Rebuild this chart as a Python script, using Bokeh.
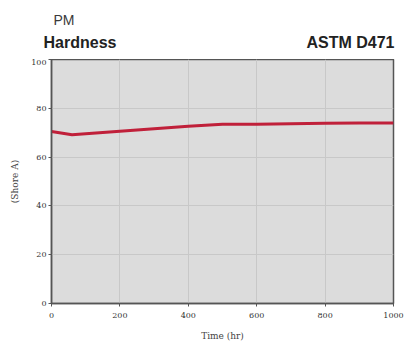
from bokeh.plotting import figure
from bokeh.layouts import column
from bokeh.models import Range1d, FixedTicker
from bokeh.core.properties import value
from bokeh.embed import file_html
from bokeh.resources import INLINE

time_hr = [0, 60, 200, 300, 400, 500, 600, 700, 800, 900, 1000]
hardness = [70.5, 69.2, 70.6, 71.6, 72.6, 73.5, 73.5, 73.7, 73.9, 74.0, 74.0]
x_ticks = [0, 200, 400, 600, 800, 1000]
y_ticks = [0, 20, 40, 60, 80, 100]

# header with the titles
h = figure(width=404, height=59, output_backend="svg", toolbar_location=None,
           x_range=Range1d(0, 404), y_range=Range1d(59, 0),
           min_border=0, x_axis_type=None, y_axis_type=None)
h.frame_align = False
h.outline_line_color = None
h.grid.grid_line_color = None
h.background_fill_color = "white"
h.text(x=[53], y=[19.5], text=["PM"], text_font=value("Liberation Sans"),
       text_font_size="14px", text_baseline="middle", text_color="#3a3a3a")
h.text(x=[43], y=[42], text=["Hardness"], text_font=value("Liberation Sans"),
       text_font_size="16px", text_font_style="bold", text_baseline="middle",
       text_color="#222222")
h.text(x=[394], y=[42], text=["ASTM D471"], text_font=value("Liberation Sans"),
       text_font_size="16px", text_font_style="bold", text_baseline="middle",
       text_align="right", text_color="#222222")

p = figure(width=404, height=293, output_backend="svg", toolbar_location=None,
           x_range=Range1d(0, 1000), y_range=Range1d(0, 100),
           min_border_left=51, min_border_right=11, min_border_top=0, min_border_bottom=49)
p.background_fill_color = "#dcdcdc"
p.border_fill_color = "white"
p.outline_line_color = "#555555"
p.outline_line_width = 1.5

p.xaxis.ticker = FixedTicker(ticks=x_ticks)
p.yaxis.ticker = FixedTicker(ticks=y_ticks)
for ax in (p.xaxis[0], p.yaxis[0]):
    ax.major_label_text_font = "DejaVu Serif"
    ax.major_label_text_font_size = "8px"
    ax.major_label_text_color = "#333333"
    ax.axis_line_color = "#555555"
    ax.axis_line_width = 1.5
    ax.major_tick_line_color = "#555555"
    ax.major_tick_in = 0
    ax.major_tick_out = 3
    ax.minor_tick_line_color = None
    ax.axis_label_text_font = "DejaVu Serif"
    ax.axis_label_text_font_size = "9px"
    ax.axis_label_text_font_style = "normal"
    ax.axis_label_text_color = "#444444"
p.xaxis.axis_label = "Time (hr)"
p.yaxis.axis_label = "(Shore A)"
p.xaxis.major_label_standoff = 6
p.xaxis.axis_label_standoff = 10
p.yaxis.major_label_standoff = 2
p.yaxis.axis_label_standoff = 8
p.xgrid.grid_line_color = "#c8c8c8"
p.ygrid.grid_line_color = "#c8c8c8"

p.line(time_hr, hardness, line_color="#c0203a", line_width=3)

layout = column(h, p, spacing=0)
open("out.html", "w").write(file_html(layout, INLINE))
